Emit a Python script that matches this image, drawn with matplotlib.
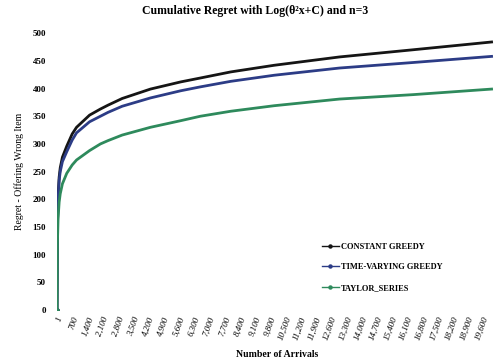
import matplotlib.pyplot as plt
import numpy as np

plt.rcParams['font.family'] = ['Liberation Serif', 'DejaVu Serif']

# arrivals and cumulative regret read at those arrivals
arrivals = [1, 20, 50, 100, 150, 250, 450, 700, 900, 1500, 2000, 2350, 3000,
            4300, 5700, 6600, 8000, 10000, 13000, 16400, 20000]
constant_greedy = [0, 150, 205, 240, 257, 276, 296, 318, 330, 352, 363, 370, 382,
                   399, 412, 419, 430, 442, 457, 470, 484]
time_varying = [0, 145, 200, 234, 250, 268, 286, 307, 320, 340, 350, 357, 368,
                383, 396, 403, 413, 424, 437, 447, 458]
taylor_series = [0, 120, 165, 195, 210, 228, 247, 262, 271, 288, 300, 306, 316,
                 330, 342, 350, 359, 369, 381, 389, 399]

tick_pos = [1] + list(range(700, 19601, 700))
tick_labels = ['{:,}'.format(t) for t in tick_pos]

fig = plt.figure(figsize=(5, 3.64), dpi=100)
ax = fig.add_axes([0.114, 0.148, 0.88, 0.761])

series = [(constant_greedy, '#151515', 'CONSTANT GREEDY'),
          (time_varying, '#2c3c86', 'TIME-VARYING GREEDY'),
          (taylor_series, '#2e8a5c', 'TAYLOR_SERIES')]
for vals, col, name in series:
    ax.plot(arrivals, vals, color=col, lw=2, marker='o', ms=2.2,
            markevery=[0], label=name)

ax.set_xlim(1, 20250)
ax.set_ylim(0, 500)
ax.set_yticks(range(0, 501, 50))
ax.set_xticks(tick_pos)
ax.set_xticklabels(tick_labels, rotation=70, ha='right', va='top',
                   rotation_mode='anchor', fontsize=6.5, style='italic')
for lbl in ax.get_yticklabels():
    lbl.set_fontsize(6.5)
    lbl.set_fontweight('bold')
ax.tick_params(length=0, pad=8)
ax.tick_params(axis='x', pad=4)

for s in ax.spines.values():
    s.set_visible(False)

ax.set_ylabel('Regret - Offering Wrong Item', fontsize=7, labelpad=6)
ax.set_xlabel('Number of Arrivals', fontsize=7, fontweight='bold', labelpad=6)
fig.suptitle('Cumulative Regret with Log(\u03b8\u00b2x+C) and n=3', fontsize=8.5,
             fontweight='bold', x=0.51, y=0.985)

leg = ax.legend(loc='upper left', bbox_to_anchor=(0.585, 0.27), frameon=False,
                prop={'size': 6, 'weight': 'bold'}, handlelength=2.0,
                labelspacing=1.5, handletextpad=0.3)
for h in leg.legend_handles:
    h.set_linewidth(1)

fig.savefig('out.png', dpi=100)
